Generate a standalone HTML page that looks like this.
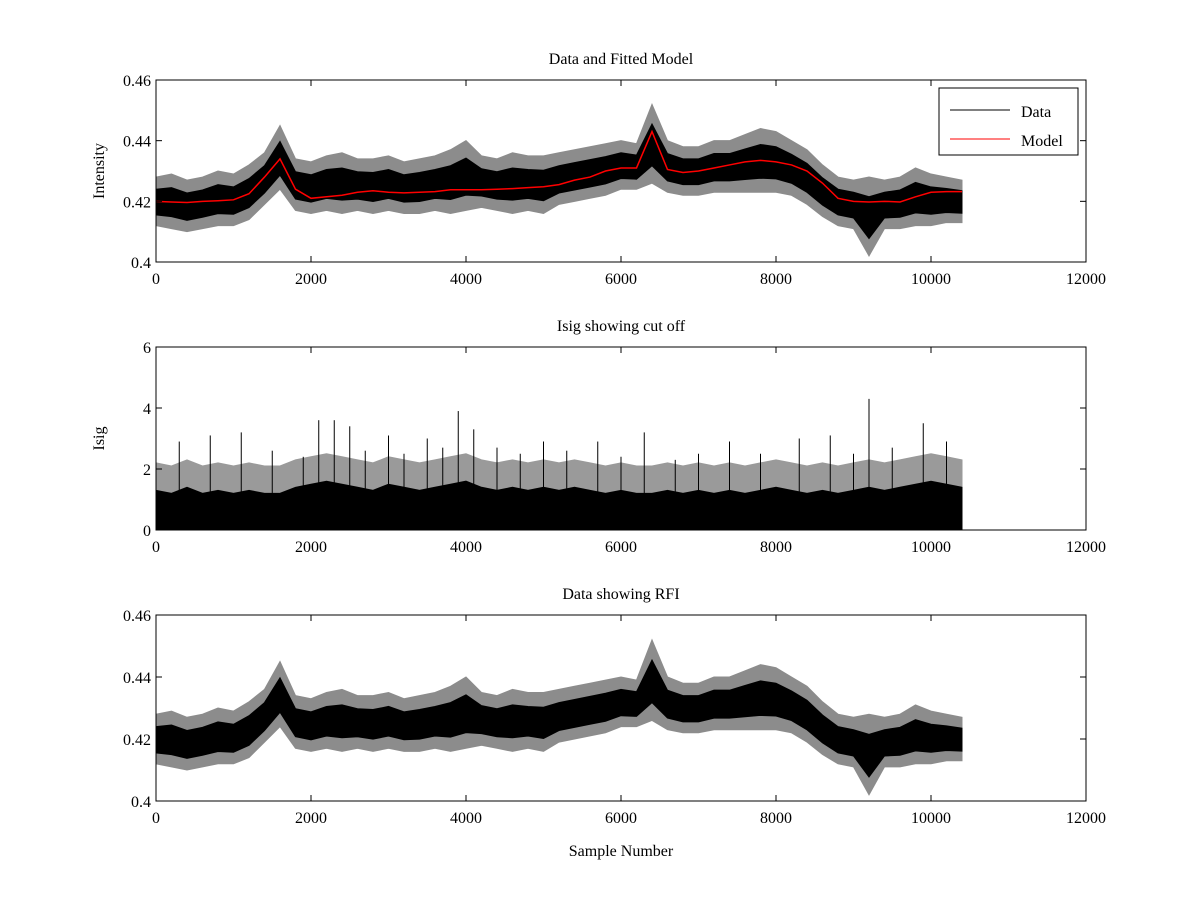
<!DOCTYPE html>
<html><head><meta charset="utf-8"><style>
body{margin:0;background:#fff;}
svg{display:block;font-family:"Liberation Serif",serif;}
</style></head><body>
<svg id="fig" width="1200" height="900"></svg>
<script>
const dataHi=[.428,.429,.427,.428,.430,.429,.432,.436,.445,.434,.433,.435,.436,.434,.434,.435,.433,.434,.435,.437,.440,.435,.434,.436,.435,.435,.436,.437,.438,.439,.440,.439,.452,.440,.438,.438,.440,.440,.442,.444,.443,.440,.437,.432,.428,.427,.428,.427,.428,.431,.429,.428,.427];
const dataLo=[.412,.411,.410,.411,.412,.412,.414,.419,.424,.417,.416,.417,.416,.417,.416,.417,.416,.416,.417,.416,.417,.418,.417,.416,.417,.416,.419,.420,.421,.422,.424,.424,.426,.423,.422,.422,.423,.423,.423,.423,.423,.422,.419,.415,.412,.411,.402,.411,.411,.412,.412,.413,.413];
const model=[.420,.4198,.4196,.420,.4202,.4205,.4225,.428,.434,.424,.421,.4215,.422,.423,.4235,.423,.4228,.423,.4232,.4238,.4238,.4238,.424,.4242,.4245,.4248,.4255,.427,.428,.430,.431,.431,.443,.4305,.4295,.430,.431,.432,.433,.4335,.433,.432,.430,.426,.421,.420,.4198,.420,.4198,.4215,.423,.4232,.4232];
const isigHi=[1.3,1.2,1.4,1.2,1.3,1.2,1.3,1.2,1.2,1.4,1.5,1.6,1.5,1.4,1.3,1.5,1.4,1.3,1.4,1.5,1.6,1.4,1.3,1.4,1.3,1.4,1.3,1.4,1.3,1.2,1.3,1.2,1.2,1.3,1.2,1.3,1.2,1.3,1.2,1.3,1.4,1.3,1.2,1.3,1.2,1.3,1.4,1.3,1.4,1.5,1.6,1.5,1.4];
const spikeX=[300,700,1100,1500,1900,2100,2300,2500,2700,3000,3200,3500,3700,3900,4100,4400,4700,5000,5300,5700,6000,6300,6700,7000,7400,7800,8300,8700,9000,9200,9500,9900,10200];
const spikeY=[2.9,3.1,3.2,2.6,2.4,3.6,3.6,3.4,2.6,3.1,2.5,3.0,2.7,3.9,3.3,2.7,2.5,2.9,2.6,2.9,2.4,3.2,2.3,2.5,2.9,2.5,3.0,3.1,2.5,4.3,2.7,3.5,2.9];
const xTicks=[0,2000,4000,6000,8000,10000,12000];
const step=200;
const NS="http://www.w3.org/2000/svg";
const svg=document.getElementById('fig');
function mk(t,a,p){const e=document.createElementNS(NS,t);for(const k in a)e.setAttribute(k,a[k]);(p||svg).appendChild(e);return e;}
const X0=156,X1=1086;
function sx(v){return X0+(v/12000)*(X1-X0);}
function axes(top,bot,ymin,ymax,yt,yfmt,title,ylab,name){
  const g=mk('g',{});
  
  
  const sy=v=>bot-(v-ymin)/(ymax-ymin)*(bot-top);
  mk('rect',{x:X0,y:top,width:X1-X0,height:bot-top,fill:'#fff',stroke:'none'},g);
  return {g,sy,finish:function(){
    mk('rect',{x:X0,y:top,width:X1-X0,height:bot-top,fill:'none',stroke:'#000','stroke-width':1},g);
    xTicks.forEach(t=>{const x=sx(t);
      mk('line',{x1:x,x2:x,y1:bot,y2:bot-6,stroke:'#000'},g);mk('line',{x1:x,x2:x,y1:top,y2:top+6,stroke:'#000'},g);
      const l=mk('text',{x:x,y:bot+22,'text-anchor':'middle','font-size':16},g);l.textContent=t;
      });
    yt.forEach(t=>{const y=sy(t);
      mk('line',{x1:X0,x2:X0+6,y1:y,y2:y,stroke:'#000'},g);mk('line',{x1:X1,x2:X1-6,y1:y,y2:y,stroke:'#000'},g);
      const l=mk('text',{x:X0-5,y:y+6,'text-anchor':'end','font-size':16},g);l.textContent=yfmt(t);
      });
    const tt=mk('text',{x:(X0+X1)/2,y:top-16,'text-anchor':'middle','font-size':16},g);tt.textContent=title;
    
    const yl=mk('text',{x:0,y:0,'text-anchor':'middle','font-size':16,transform:`translate(${X0-52},${(top+bot)/2}) rotate(-90)`},g);yl.textContent=ylab;
    
  }};
}
function poly(ax,hi,lo,fill,name){
  let pts=[];hi.forEach((v,i)=>pts.push(sx(i*step)+','+ax.sy(v)));
  for(let i=lo.length-1;i>=0;i--)pts.push(sx(i*step)+','+ax.sy(lo[i]));
  const p=mk('polygon',{points:pts.join(' '),fill:fill,stroke:fill,'stroke-width':1},ax.g);
  
}
function band(ax,hi,lo,name){
  poly(ax,hi,lo,'#8c8c8c',name+'-extremes');
  const ch=hi.map((v,i)=>v-0.25*(v-lo[i])), cl=lo.map((v,i)=>v+0.22*(hi[i]-v));
  poly(ax,ch,cl,'#000',name);
}
const fmt=v=>v===0.4?'0.4':String(v);
const a1=axes(80,262,0.40,0.46,[0.40,0.42,0.44,0.46],fmt,'Data and Fitted Model','Intensity','panel-data-model');
band(a1,dataHi,dataLo,'data-series');
const mp=mk('polyline',{points:model.map((v,i)=>sx(i*step)+','+a1.sy(v)).join(' '),fill:'none',stroke:'#f00','stroke-width':1.5},a1.g);

a1.finish();
const lg=mk('g',{});
mk('rect',{x:939,y:88,width:139,height:67,fill:'#fff',stroke:'#000'},lg);
mk('line',{x1:950,x2:1010,y1:110,y2:110,stroke:'#000'},lg);
mk('line',{x1:950,x2:1010,y1:139,y2:139,stroke:'#f00'},lg);
let t=mk('text',{x:1021,y:117,'font-size':16},lg);t.textContent='Data';
t=mk('text',{x:1021,y:146,'font-size':16},lg);t.textContent='Model';
const a2=axes(347,530,0,6,[0,2,4,6],String,'Isig showing cut off','Isig','panel-isig');
poly(a2,isigHi.map(v=>v+0.9),isigHi.map(()=>0),'#9a9a9a','isig-extremes');
poly(a2,isigHi,isigHi.map(()=>0),'#000','isig-series');
spikeX.forEach((x,i)=>{const l=mk('line',{x1:sx(x),x2:sx(x),y1:a2.sy(0),y2:a2.sy(spikeY[i]),stroke:'#000','stroke-width':1},a2.g);
  });
a2.finish();
const a3=axes(615,801,0.40,0.46,[0.40,0.42,0.44,0.46],fmt,'Data showing RFI','','panel-rfi');
band(a3,dataHi,dataLo,'rfi-data-series');
a3.finish();
const xl=mk('text',{x:(X0+X1)/2,y:856,'text-anchor':'middle','font-size':16});xl.textContent='Sample Number';

</script>
</body></html>
